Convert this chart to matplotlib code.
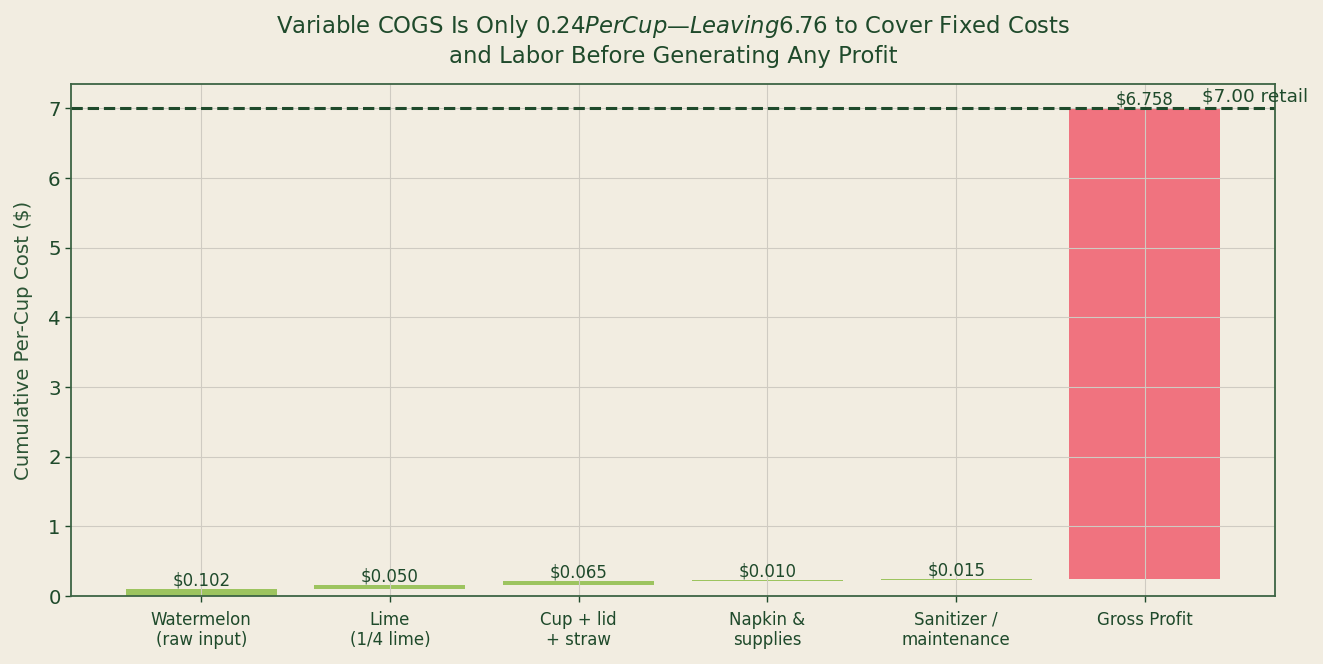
import numpy as np
from matplotlib import pyplot as plt

categories = ['Watermelon\n(raw input)', 'Lime\n(1/4 lime)', 'Cup + lid\n+ straw',
              'Napkin &\nsupplies', 'Sanitizer /\nmaintenance', 'Gross Profit']
costs = [0.102, 0.050, 0.065, 0.010, 0.015]
retail = 7.00
gross_profit = 6.758

BG = '#f2ede1'
DARK = '#1f4a2b'
GREEN = '#9dc45f'
RED = '#f0737f'

heights = costs + [gross_profit]
bottoms = list(np.concatenate([[0], np.cumsum(costs)[:-1]])) + [retail - gross_profit]
colors = [GREEN] * len(costs) + [RED]
x = np.arange(len(categories))

fig = plt.figure(figsize=(13.23, 6.64), dpi=100, facecolor=BG)
ax = fig.add_axes([0.0537, 0.1024, 0.9101, 0.7711])
ax.set_facecolor(BG)

ax.bar(x, heights, bottom=bottoms, color=colors, width=0.8)
for xi, h, b in zip(x, heights, bottoms):
    ax.text(xi, b + h - 0.005, f'${h:.3f}', ha='center', va='bottom',
            fontsize=12, color=DARK)

ax.axhline(retail, color=DARK, linestyle='--', linewidth=2.2)
ax.text(len(categories) - 0.7, retail + 0.04, f'${retail:.2f} retail',
        ha='left', va='bottom', fontsize=13.3, color=DARK)

ax.set_xticks(x)
ax.set_xticklabels(categories, fontsize=12, color=DARK)
ax.tick_params(axis='y', labelsize=14.2, colors=DARK, length=4, width=1)
ax.tick_params(axis='x', colors=DARK, length=4, width=1, pad=6.5)
ax.set_ylabel('Cumulative Per-Cup Cost ($)', fontsize=14.2, color='#2c5535', labelpad=11)
ax.grid(True, color='#cfcbc2', linewidth=0.8)
for s in ax.spines.values():
    s.set_color('#3d6444')
    s.set_linewidth(1.3)

ax.set_title('Variable COGS Is Only $0.24 Per Cup—Leaving $6.76 to Cover Fixed Costs\n'
             'and Labor Before Generating Any Profit', fontsize=16.4, color=DARK,
             pad=15, linespacing=1.3)

fig.savefig('out.png', dpi=100, facecolor=BG)
